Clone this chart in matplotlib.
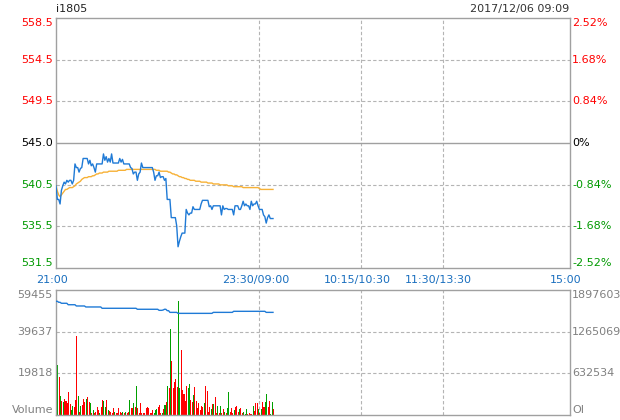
import matplotlib
matplotlib.use('Agg')
import matplotlib.pyplot as plt
from matplotlib.transforms import ScaledTranslation

# chart data
symbol = 'i1805'
stamp = '2017/12/06 09:09'
prev_close = 545.0
pct_ticks = [2.52, 1.68, 0.84, 0, -0.84, -1.68, -2.52]
price_labels = ['558.5', '554.5', '549.5', '545.0', '540.5', '535.5', '531.5']
pct_labels = ['2.52%', '1.68%', '0.84%', '0%', '-0.84%', '-1.68%', '-2.52%']
time_ticks = [0, 150, 225, 285, 379]
time_labels = ['21:00', '23:30/09:00', '10:15/10:30', '11:30/13:30', '15:00']
vol_ticks = [59455, 39637, 19818]
oi_ticks = [1897603, 1265069, 632534]

price = [
    540.3, 538.8, 538.8, 538.3, 539.8, 540.3, 540.7, 540.5, 540.9, 540.7,
    540.9, 540.9, 540.5, 540.9, 542.7, 542.3, 542.3, 541.8, 542.2, 542.3,
    543.3, 543.3, 543.3, 543.3, 542.7, 543.1, 542.5, 542.7, 542.3, 541.8,
    542.7, 542.7, 542.7, 542.7, 542.7, 543.8, 543.1, 543.5, 542.9, 543.3,
    542.9, 543.8, 542.8, 542.8, 542.8, 542.8, 542.8, 543.3, 542.9, 543.2,
    542.7, 542.7, 542.7, 542.7, 542.7, 542.3, 542.2, 541.6, 541.8, 541.8,
    540.9, 541.6, 541.8, 542.8, 542.3, 542.3, 542.3, 542.3, 542.3, 542.3,
    542.3, 542.3, 541.8, 540.9, 541.4, 541.4, 541.8, 541.2, 541.3, 541.3,
    540.9, 541.1, 538.8, 538.8, 538.8, 536.8, 536.8, 536.8, 536.8, 535.9,
    533.6, 534.2, 534.7, 535.1, 535.1, 535.1, 537.7, 537.3, 537.1, 537.3,
    537.3, 538.0, 537.7, 537.7, 537.7, 537.7, 537.7, 538.3, 538.7, 538.7,
    538.7, 538.7, 538.7, 538.0, 538.1, 537.7, 538.1, 538.1, 538.1, 538.1,
    538.1, 538.1, 537.1, 538.1, 537.7, 537.8, 537.8, 537.7, 537.7, 537.7,
    537.7, 537.1, 538.1, 538.1, 538.1, 537.7, 537.7, 538.1, 538.6, 538.1,
    538.3, 538.1, 538.1, 537.7, 538.6, 538.1, 538.3, 538.3, 538.6, 538.1,
    537.7, 537.7, 537.7, 537.1, 536.9, 536.2, 536.8, 537.1, 536.7, 536.7,
    536.7,
]

avg_price = [
    540.3, 539.7, 539.3, 539.1, 539.3, 539.5, 539.7, 539.9, 539.9, 540.0,
    540.1, 540.1, 540.1, 540.2, 540.3, 540.5, 540.6, 540.7, 540.8, 541.0,
    541.1, 541.2, 541.2, 541.2, 541.3, 541.3, 541.3, 541.4, 541.4, 541.5,
    541.6, 541.6, 541.7, 541.7, 541.7, 541.8, 541.8, 541.8, 541.8, 541.9,
    541.9, 541.9, 541.9, 541.9, 541.9, 541.9, 542.0, 542.0, 542.0, 542.0,
    542.0, 542.0, 542.1, 542.1, 542.1, 542.1, 542.1, 542.1, 542.1, 542.1,
    542.1, 542.1, 542.1, 542.1, 542.1, 542.1, 542.1, 542.1, 542.1, 542.1,
    542.1, 542.1, 542.1, 542.1, 542.0, 542.0, 542.0, 541.9, 541.9, 541.9,
    541.9, 541.9, 541.9, 541.8, 541.8, 541.7, 541.6, 541.6, 541.5, 541.5,
    541.4, 541.3, 541.3, 541.2, 541.2, 541.1, 541.1, 541.0, 541.0, 540.9,
    540.9, 540.9, 540.9, 540.8, 540.8, 540.8, 540.8, 540.7, 540.7, 540.7,
    540.7, 540.7, 540.6, 540.6, 540.6, 540.6, 540.5, 540.5, 540.5, 540.5,
    540.5, 540.4, 540.4, 540.4, 540.4, 540.4, 540.4, 540.3, 540.3, 540.3,
    540.3, 540.2, 540.2, 540.2, 540.2, 540.2, 540.2, 540.2, 540.1, 540.1,
    540.1, 540.1, 540.1, 540.1, 540.1, 540.1, 540.1, 540.1, 540.1, 540.1,
    540.0, 539.9, 539.9, 539.9, 539.9, 539.9, 539.9, 539.9, 539.9, 539.9,
    539.9,
]

volume = [
    21900, 23800, 18200, 9040, 6660, 6340, 7610, 6820, 5550, 10940,
    5070, 2380, 4280, 3960, 7130, 37570, 9040, 1590, 4280, 4760,
    7450, 6020, 7770, 8560, 6340, 5870, 1110, 2380, 1110, 1590,
    3960, 2380, 1110, 3800, 7130, 6820, 3800, 7130, 2380, 2060,
    1590, 1110, 3490, 1590, 1110, 1110, 3490, 1430, 1110, 1430,
    1110, 1430, 790, 1590, 7130, 3490, 3170, 5550, 3960, 13790,
    3490, 1110, 5550, 790, 1110, 790, 3490, 3960, 3170, 1110,
    790, 2380, 790, 2380, 2690, 3960, 4760, 790, 790, 2690,
    4760, 6020, 13790, 12680, 40900, 25840, 13000, 15700, 16960, 13160,
    54220, 12680, 30910, 11890, 9990, 6660, 13790, 13000, 14590, 7130,
    6020, 9510, 13480, 6660, 3170, 5870, 2380, 4280, 3960, 5550,
    13950, 11570, 1590, 3650, 2690, 5070, 5070, 8560, 790, 4120,
    1110, 4280, 790, 2690, 1590, 790, 3490, 10780, 1590, 3490,
    790, 2380, 3960, 4280, 1590, 2690, 3490, 790, 1590, 320,
    2690, 320, 790, 320, 320, 4280, 1900, 5550, 5550, 2690,
    790, 2690, 6180, 3650, 6180, 9990, 3650, 6660, 480, 6180,
    2690,
]

# R = up bar (red), G = down bar (green), ten bars per chunk
vol_side = ''.join([
    'RGRGRGRRRR', 'RGGRRRGRGR', 'RRGRRGRGRR', 'RRGRRGGRGR',
    'RRRGRRRRRG', 'RGRRGRRGRG', 'RRRRRRRRRR', 'RRGGGRRRGR',
    'GRGRGRRRRR', 'GGRRRRRGGR', 'RGRRRRRRRG', 'RRRRGRGRRG',
    'RGRRGRGGRR', 'RGRRRGRRGG', 'GRRRRGRRRG', 'RGRRGGRRGG',
    'R',
])

open_interest = [
    1726000, 1726000, 1711000, 1711000, 1696000, 1696000, 1696000, 1696000, 1696000, 1674000,
    1674000, 1674000, 1674000, 1674000, 1674000, 1655000, 1655000, 1655000, 1655000, 1655000,
    1655000, 1655000, 1640000, 1640000, 1640000, 1640000, 1640000, 1640000, 1640000, 1640000,
    1640000, 1640000, 1640000, 1640000, 1620000, 1620000, 1620000, 1620000, 1620000, 1620000,
    1620000, 1620000, 1620000, 1620000, 1620000, 1620000, 1620000, 1620000, 1620000, 1620000,
    1620000, 1620000, 1620000, 1620000, 1620000, 1620000, 1620000, 1620000, 1620000, 1620000,
    1605000, 1605000, 1605000, 1605000, 1605000, 1605000, 1605000, 1605000, 1605000, 1605000,
    1605000, 1605000, 1605000, 1605000, 1605000, 1605000, 1589000, 1589000, 1589000, 1594000,
    1605000, 1605000, 1584000, 1584000, 1558000, 1558000, 1558000, 1558000, 1558000, 1558000,
    1543000, 1543000, 1543000, 1543000, 1543000, 1543000, 1543000, 1543000, 1543000, 1543000,
    1543000, 1543000, 1543000, 1543000, 1543000, 1543000, 1543000, 1543000, 1543000, 1543000,
    1543000, 1543000, 1543000, 1543000, 1543000, 1543000, 1558000, 1558000, 1558000, 1558000,
    1558000, 1558000, 1558000, 1558000, 1558000, 1558000, 1558000, 1558000, 1558000, 1558000,
    1558000, 1574000, 1574000, 1574000, 1574000, 1574000, 1574000, 1574000, 1574000, 1574000,
    1574000, 1574000, 1574000, 1574000, 1574000, 1574000, 1574000, 1574000, 1574000, 1574000,
    1574000, 1574000, 1574000, 1574000, 1574000, 1558000, 1558000, 1558000, 1558000, 1558000,
    1558000,
]

RED = '#ff0000'
GREEN = '#009900'
BAR_GREEN = '#00a000'
BLUE = '#1f7ad6'
ORANGE = '#f7b136'
FRAME = '#a0a0a0'
GRID = '#b4b4b4'
GRAY = '#808080'
TIME_BLUE = '#1a6fbf'

plt.rcParams['font.family'] = ['DejaVu Sans']
FS = 8

fig = plt.figure(figsize=(6.2, 4.2), dpi=100)
ax = fig.add_axes([56 / 620, 1 - 268 / 420, 514 / 620, 250 / 420])
axv = fig.add_axes([56 / 620, 1 - 415 / 420, 514 / 620, 125 / 420])

n = len(price)
idx = list(range(n))
levels = [prev_close * (1 + p / 100) for p in pct_ticks]
dash = (0, (3, 2))

for a in (ax, axv):
    a.set_xlim(time_ticks[0], time_ticks[-1])
    a.set_xticks([])
    a.set_yticks([])
    for s in a.spines.values():
        s.set_color(FRAME)
        s.set_linewidth(1.0)
    for t in time_ticks[1:-1]:
        a.axvline(t, color=GRID, lw=0.8, ls=dash, zorder=1)

# price panel
ax.set_ylim(levels[-1], levels[0])
for lv, p in zip(levels[1:-1], pct_ticks[1:-1]):
    if p == 0:
        ax.axhline(lv, color=FRAME, lw=1.0, zorder=1)
    else:
        ax.axhline(lv, color=GRID, lw=0.8, ls=dash, zorder=1)

ax.plot(idx, avg_price, color=ORANGE, lw=1.0, zorder=3)
ax.plot(idx, price, color=BLUE, lw=1.0, zorder=4)

ytr = ax.get_yaxis_transform()
for k, (lv, lab, plab, p) in enumerate(zip(levels, price_labels, pct_labels, pct_ticks)):
    col = RED if p > 0 else (GREEN if p < 0 else 'black')
    va = 'top' if k == 0 else ('bottom' if k == len(levels) - 1 else 'center')
    ax.text(-0.006, lv, lab, transform=ytr, ha='right', va=va, color=col, fontsize=FS)
    ax.text(1.004, lv, plab, transform=ytr, ha='left', va=va, color=col, fontsize=FS)

shift = ScaledTranslation(-4 / 100, 0, fig.dpi_scale_trans)
xtr = ax.get_xaxis_transform()
for t, lab in zip(time_ticks, time_labels):
    ax.text(t, -12 / 250, lab, transform=xtr + shift, ha='center', va='center',
            color=TIME_BLUE, fontsize=FS)

fig.text(56 / 620, 1 - 9 / 420, symbol, ha='left', va='center', color='#222222', fontsize=FS)
fig.text(569 / 620, 1 - 9 / 420, stamp, ha='right', va='center', color='#333333', fontsize=FS)

# volume panel
colors = [RED if c == 'R' else BAR_GREEN for c in vol_side]
axv.bar(idx, volume, width=0.75, align='edge', color=colors, linewidth=0,
        antialiased=False, zorder=2)
axv.set_ylim(0, vol_ticks[0])
for v in vol_ticks[1:]:
    axv.axhline(v, color=GRID, lw=0.8, ls=dash, zorder=1)

axo = axv.twinx()
axo.set_ylim(0, oi_ticks[0])
axo.axis('off')
axo.plot(idx, open_interest, color=BLUE, lw=1.0, zorder=3)

vtr = axv.get_yaxis_transform()
for k, v in enumerate(vol_ticks):
    axv.text(-0.006, v, str(v), transform=vtr, ha='right',
             va='top' if k == 0 else 'center', color=GRAY, fontsize=FS)
axv.text(-0.006, 0, 'Volume', transform=vtr, ha='right', va='bottom', color=GRAY, fontsize=FS)
for k, (v, o) in enumerate(zip(vol_ticks, oi_ticks)):
    axv.text(1.004, v, str(o), transform=vtr, ha='left',
             va='top' if k == 0 else 'center', color=GRAY, fontsize=FS)
axv.text(1.004, 0, 'OI', transform=vtr, ha='left', va='bottom', color=GRAY, fontsize=FS)

fig.savefig('out.png', dpi=100)
